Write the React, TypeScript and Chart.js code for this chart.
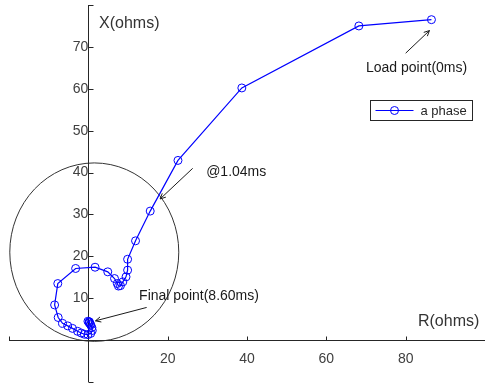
import React, { useEffect, useRef } from 'react';
import { Chart, registerables } from 'chart.js';

Chart.register(...registerables);

// ---- data ----
const seriesLabel = 'a phase';
const rValues = [86.5, 68.2, 38.7, 22.6, 15.6, 11.9, 9.9, 9.9, 9.5, 8.7, 8.1, 7.6, 7.3, 6.6, 4.9, 1.7, -3.2, -7.7, -8.5, -7.6, -6.5, -5.2, -4.0, -2.7, -1.8, -1.0, -0.1, 0.6, 1.0, 0.9, 0.6, 0.2, -0.1, 0.3, 0.5, 0.2];
const xValues = [76.5, 75.0, 60.2, 42.9, 30.8, 23.7, 19.3, 16.7, 15.1, 13.9, 13.0, 12.9, 13.5, 14.7, 16.3, 17.4, 17.1, 13.5, 8.4, 5.4, 4.0, 3.4, 2.8, 2.1, 1.7, 1.4, 1.3, 1.6, 2.3, 3.0, 3.6, 4.1, 4.5, 4.3, 3.8, 4.4];

const rAxisMin = -20;
const rAxisMax = 100;
const rAxisStep = 20;
const rTickLabels = [20, 40, 60, 80];
const xAxisMin = -10;
const xAxisMax = 80;
const xAxisStep = 10;
const xTickLabels = [10, 20, 30, 40, 50, 60, 70];

// mho circle (center R, center X, radius) in ohms
const mhoCenter = [1.5, 21.0];
const mhoRadius = 21.3;

const rAxisTitle = 'R(ohms)';
const xAxisTitle = 'X(ohms)';

// annotations: text, text anchor (R, X), arrow start, arrow tip
const annotationTexts = ['Load point(0ms)', '@1.04ms', 'Final point(8.60ms)'];
const annotationTextPos = [[70.0, 64.1], [29.7, 39.2], [12.8, 9.6]];
const annotationArrowFrom = [[80.0, 68.5], [26.3, 41.0], [14.7, 7.8]];
const annotationArrowTo = [[86.0, 73.9], [18.1, 33.7], [1.8, 4.6]];

const FONT = '"Liberation Sans", Arial, Helvetica, sans-serif';
const BLUE = '#0000ff';

const zeroFit = (s: any, horizontal: boolean) => {
  if (horizontal) s.height = 0;
  else s.width = 0;
  s.paddingLeft = 0;
  s.paddingRight = 0;
  s.paddingTop = 0;
  s.paddingBottom = 0;
};

const overlay = {
  id: 'overlay',
  beforeDatasetsDraw(chart: any) {
    const { ctx, scales } = chart;
    const sx = scales.x;
    const sy = scales.y;
    ctx.save();
    // circle
    const cx = sx.getPixelForValue(mhoCenter[0]);
    const cy = sy.getPixelForValue(mhoCenter[1]);
    const rx = sx.getPixelForValue(mhoCenter[0] + mhoRadius) - cx;
    const ry = cy - sy.getPixelForValue(mhoCenter[1] + mhoRadius);
    ctx.beginPath();
    ctx.ellipse(cx, cy, rx, ry, 0, 0, Math.PI * 2);
    ctx.strokeStyle = '#333333';
    ctx.lineWidth = 1;
    ctx.stroke();

    // axes lines
    const x0 = Math.round(sx.getPixelForValue(0)) + 0.5;
    const y0 = Math.round(sy.getPixelForValue(0)) + 0.5;
    const ca = chart.chartArea;
    ctx.strokeStyle = '#262626';
    ctx.beginPath();
    ctx.moveTo(ca.left, y0);
    ctx.lineTo(ca.right, y0);
    ctx.moveTo(x0, ca.top);
    ctx.lineTo(x0, ca.bottom);
    // tick marks (inward)
    sx.ticks.forEach((t: any) => {
      if (t.value === 0) return;
      const px = Math.round(sx.getPixelForValue(t.value)) + 0.5;
      ctx.moveTo(px, y0);
      ctx.lineTo(px, y0 - 4);
    });
    sy.ticks.forEach((t: any) => {
      if (t.value === 0) return;
      const py = Math.round(sy.getPixelForValue(t.value)) + 0.5;
      ctx.moveTo(x0, py);
      ctx.lineTo(x0 + 5, py);
    });
    ctx.stroke();
    ctx.restore();
  },
  afterDraw(chart: any) {
    const { ctx, scales } = chart;
    const sx = scales.x;
    const sy = scales.y;
    ctx.save();
    // axis titles
    ctx.fillStyle = '#333333';
    ctx.font = `16px ${FONT}`;
    ctx.textBaseline = 'alphabetic';
    ctx.textAlign = 'left';
    ctx.fillText(xAxisTitle, sx.getPixelForValue(2.7), sy.getPixelForValue(74.4));
    ctx.fillText(rAxisTitle, sx.getPixelForValue(83.1), sy.getPixelForValue(3.4));

    // annotations
    ctx.font = `14px ${FONT}`;
    ctx.fillStyle = '#1a1a1a';
    ctx.strokeStyle = '#1a1a1a';
    ctx.lineWidth = 1;
    annotationTexts.forEach((txt, i) => {
      const tp = annotationTextPos[i];
      ctx.fillText(txt, sx.getPixelForValue(tp[0]), sy.getPixelForValue(tp[1]));
      const fx = sx.getPixelForValue(annotationArrowFrom[i][0]);
      const fy = sy.getPixelForValue(annotationArrowFrom[i][1]);
      const tx = sx.getPixelForValue(annotationArrowTo[i][0]);
      const ty = sy.getPixelForValue(annotationArrowTo[i][1]);
      ctx.beginPath();
      ctx.moveTo(fx, fy);
      ctx.lineTo(tx, ty);
      const ang = Math.atan2(ty - fy, tx - fx);
      const hl = 6;
      const ha = 0.45;
      ctx.moveTo(tx - hl * Math.cos(ang - ha), ty - hl * Math.sin(ang - ha));
      ctx.lineTo(tx, ty);
      ctx.lineTo(tx - hl * Math.cos(ang + ha), ty - hl * Math.sin(ang + ha));
      ctx.stroke();
    });

    // legend
    const bx = 370.5;
    const by = 100.5;
    const bw = 102;
    const bh = 20;
    ctx.fillStyle = '#ffffff';
    ctx.fillRect(bx, by, bw, bh);
    ctx.strokeStyle = '#262626';
    ctx.strokeRect(bx, by, bw, bh);
    const ly = by + bh / 2;
    ctx.strokeStyle = BLUE;
    ctx.beginPath();
    ctx.moveTo(bx + 5, ly);
    ctx.lineTo(bx + 43, ly);
    ctx.stroke();
    ctx.beginPath();
    ctx.arc(bx + 24, ly, 4, 0, Math.PI * 2);
    ctx.stroke();
    ctx.fillStyle = '#262626';
    ctx.font = `13px ${FONT}`;
    ctx.textBaseline = 'middle';
    ctx.fillText(chart.data.datasets[0].label, bx + 50, ly + 1);
    ctx.restore();
  },
};

export default function App() {
  const canvasRef = useRef<HTMLCanvasElement | null>(null);

  useEffect(() => {
    document.body.style.margin = '0';
    const canvas = canvasRef.current;
    if (!canvas) return;
    const points = rValues.map((r, i) => ({ x: r, y: xValues[i] }));
    const chart = new Chart(canvas, {
      type: 'scatter',
      data: {
        datasets: [
          {
            label: seriesLabel,
            data: points,
            showLine: true,
            borderColor: BLUE,
            borderWidth: 1.2,
            pointRadius: 4,
            pointBorderWidth: 1,
            pointBorderColor: BLUE,
            pointBackgroundColor: 'rgba(0,0,0,0)',
            pointStyle: 'circle',
            tension: 0,
          },
        ],
      },
      options: {
        responsive: false,
        animation: false,
        devicePixelRatio: 1,
        layout: { autoPadding: false, padding: { left: 9, right: 0, top: 5, bottom: 5 } },
        plugins: { legend: { display: false }, tooltip: { enabled: false } },
        scales: {
          x: {
            type: 'linear',
            position: { y: 0 } as any,
            min: rAxisMin,
            max: rAxisMax,
            afterFit: (s: any) => zeroFit(s, true),
            grid: { display: false, drawTicks: false },
            border: { display: false },
            ticks: {
              stepSize: rAxisStep,
              autoSkip: false,
              maxRotation: 0,
              padding: 11,
              color: '#404040',
              font: { family: FONT, size: 14 },
              callback: (v: any) => (rTickLabels.includes(Number(v)) ? String(v) : ''),
            },
          },
          y: {
            type: 'linear',
            position: { x: 0 } as any,
            min: xAxisMin,
            max: xAxisMax,
            afterFit: (s: any) => zeroFit(s, false),
            grid: { display: false, drawTicks: false },
            border: { display: false },
            ticks: {
              stepSize: xAxisStep,
              autoSkip: false,
              padding: 7,
              color: '#404040',
              font: { family: FONT, size: 14 },
              callback: (v: any) => (xTickLabels.includes(Number(v)) ? String(v) : ''),
            },
          },
        },
      },
      plugins: [overlay],
    });
    return () => chart.destroy();
  }, []);

  return (
    <div style={{ width: 485, height: 387, background: '#fff' }}>
      <canvas ref={canvasRef} width={485} height={387} style={{ display: 'block' }} />
    </div>
  );
}
